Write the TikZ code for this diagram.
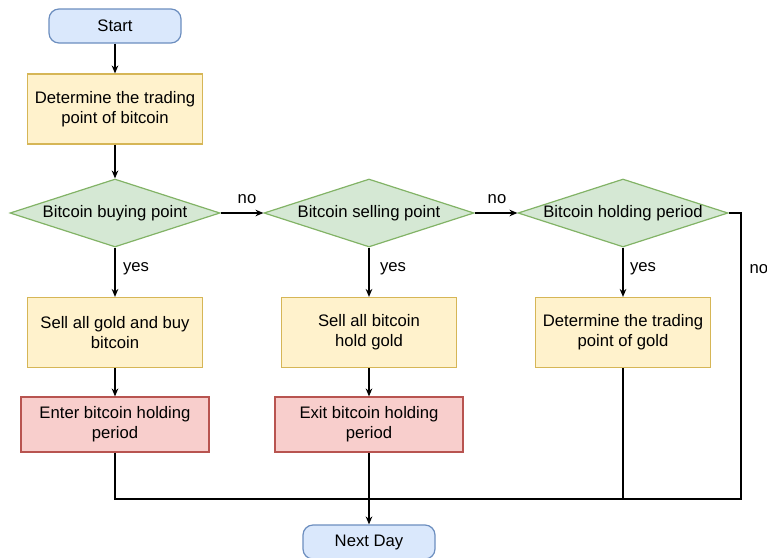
\documentclass[tikz,border=0pt]{standalone}
\usepackage{fontspec}
\setmainfont{Liberation Sans}
\usetikzlibrary{arrows.meta,shapes.geometric}
\definecolor{startblue}{HTML}{DAE8FC}
\definecolor{startedge}{HTML}{6C8EBF}
\definecolor{stepyellow}{HTML}{FFF2CC}
\definecolor{stepedge}{HTML}{D6B656}
\definecolor{testgreen}{HTML}{D5E8D4}
\definecolor{testedge}{HTML}{82B366}
\definecolor{periodred}{HTML}{F8CECC}
\definecolor{periodedge}{HTML}{B85450}

\begin{document}
\begin{tikzpicture}[
    x=0.75pt,
    y=-0.75pt,
    >={Stealth[length=6pt,width=5pt]},
    every node/.style={font=\fontsize{12.5}{15}\selectfont},
    terminal/.style={rectangle,rounded corners=7.5pt,draw=startedge,fill=startblue,line width=0.9pt,minimum width=99pt,minimum height=25.5pt},
    stepbox/.style={rectangle,draw=stepedge,fill=stepyellow,line width=0.9pt,minimum width=131.25pt,minimum height=52.5pt,align=center},
    test/.style={diamond,aspect=3.09,inner sep=0pt,draw=testedge,fill=testgreen,line width=0.9pt,minimum width=157.5pt,minimum height=51pt},
    periodbox/.style={rectangle,draw=periodedge,fill=periodred,line width=0.9pt,minimum width=141pt,minimum height=41.25pt,align=center},
    flow/.style={line width=0.9pt},
    answer/.style={inner sep=1pt}
]
  \useasboundingbox (0,0) rectangle (767,557);

  \node[terminal] (start) at (115,26) {Start};
  \node[stepbox] (detbtc) at (115,109) {Determine the trading\\point of bitcoin};

  \node[test] (buy) at (115,213) {Bitcoin buying point};
  \node[test] (sell) at (369,213) {Bitcoin selling point};
  \node[test] (hold) at (623,213) {Bitcoin holding period};

  \node[stepbox] (sellgold) at (115,332.5) {Sell all gold and buy\\bitcoin};
  \node[stepbox] (sellbtc) at (369,332.5) {Sell all bitcoin\\hold gold};
  \node[stepbox] (detgold) at (623,332.5) {Determine the trading\\point of gold};

  \node[periodbox] (enter) at (115,424.5) {Enter bitcoin holding\\period};
  \node[periodbox] (exitb) at (369,424.5) {Exit bitcoin holding\\period};

  \node[terminal] (next) at (369,542) {Next Day};

  \coordinate (join) at (369,499);
  \coordinate (holdturn) at (741,213);

  % main line
  \draw[flow,->] (start) -- (detbtc);
  \draw[flow,->] (detbtc) -- (buy);
  \draw[flow,->] (buy) -- (sell);
  \draw[flow,->] (sell) -- (hold);
  \draw[flow,->] (buy) -- (sellgold);
  \draw[flow,->] (sell) -- (sellbtc);
  \draw[flow,->] (hold) -- (detgold);
  \draw[flow,->] (sellgold) -- (enter);
  \draw[flow,->] (sellbtc) -- (exitb);
  \draw[flow,->] (exitb) -- (next);

  % back to next day
  \draw[flow] (enter.south) |- (join);
  \draw[flow] (detgold.south) |- (join);
  \draw[flow] (hold.east) -- (holdturn) |- (join);

  \node[answer] (no1) at (247,199) {no};
  \node[answer] (no2) at (497,199) {no};
  \node[answer,anchor=west] (no3) at (748,269) {no};
  \node[answer] (yes1) at (136,269) {yes};
  \node[answer] (yes2) at (393,269) {yes};
  \node[answer] (yes3) at (643,269) {yes};
\end{tikzpicture}
\end{document}
